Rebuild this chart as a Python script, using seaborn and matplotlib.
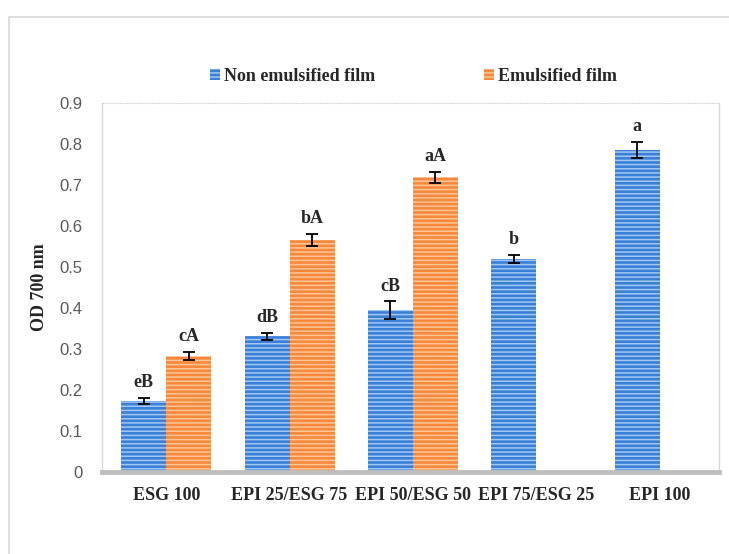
import numpy as np
import pandas as pd
import matplotlib
matplotlib.use("Agg")
import matplotlib.pyplot as plt
from matplotlib.patches import Patch, Rectangle
import seaborn as sns

# ---------------------------
# DATA
# ---------------------------
films = ["ESG 100", "EPI 25/ESG 75", "EPI 50/ESG 50", "EPI 75/ESG 25", "EPI 100"]
non_emul = [0.173, 0.331, 0.395, 0.520, 0.785]
non_emul_err = [0.008, 0.008, 0.021, 0.010, 0.020]
non_emul_lbl = ["eB", "dB", "cB", "b", "a"]
emul = [0.283, 0.566, 0.719, np.nan, np.nan]
emul_err = [0.010, 0.015, 0.014, np.nan, np.nan]
emul_lbl = ["cA", "bA", "aA", "", ""]
series = ["Non emulsified film", "Emulsified film"]

rows = []
for i, f in enumerate(films):
    rows.append((f, series[0], non_emul[i], non_emul_err[i], non_emul_lbl[i]))
    if not np.isnan(emul[i]):
        rows.append((f, series[1], emul[i], emul_err[i], emul_lbl[i]))
df = pd.DataFrame(rows, columns=["Film", "Type", "OD", "Err", "Lbl"])

face = {series[0]: "#3a7fd8", series[1]: "#f8883a"}
stripe = {series[0]: "#a2c8f2", series[1]: "#fdc59a"}
SERIF = "Liberation Serif"
FS = 13

# ---------------------------
# PLOT
# ---------------------------
sns.set_style("white")
plt.rcParams["hatch.linewidth"] = 1.1

fig = plt.figure(figsize=(7.29, 5.54), dpi=100)
ax = fig.add_axes([0.140, 0.148, 0.846, 0.666])

sns.barplot(data=df, x="Film", y="OD", hue="Type", order=films,
            hue_order=series, palette=face, width=0.73, errorbar=None,
            legend=False, saturation=1, ax=ax)

for cont, s in zip(ax.containers, series):
    sub = df[df["Type"] == s].set_index("Film").reindex(films).dropna(subset=["OD"])
    for bar, (_, r) in zip(cont, sub.iterrows()):
        bar.set_hatch("----")
        bar.set_edgecolor(stripe[s])
        bar.set_linewidth(0)
        xc = bar.get_x() + bar.get_width() / 2
        ax.errorbar(xc, r["OD"], yerr=r["Err"], fmt="none", ecolor="black",
                    elinewidth=1.3, capsize=4, capthick=1.3)
        ax.annotate(r["Lbl"], (xc, r["OD"] + r["Err"]), xytext=(0, 5),
                    textcoords="offset points", ha="center", va="bottom",
                    fontsize=FS, fontweight="bold", family=SERIF)

ax.set_ylim(0, 0.9)
ax.set_xlim(-0.52, 4.48)
ax.set_yticks(np.arange(0, 0.91, 0.1))
ax.set_yticklabels(["0"] + [f"{v:.1f}" for v in np.arange(0.1, 0.91, 0.1)],
                   fontsize=12, color="#595959", family="Liberation Sans")
ax.tick_params(axis="y", length=0, pad=14)
ax.tick_params(axis="x", length=0, pad=11)
for lab in ax.get_xticklabels():
    lab.set_fontsize(FS)
    lab.set_fontweight("bold")
    lab.set_family(SERIF)
ax.set_xlabel("")
ax.set_ylabel("OD 700 nm", fontsize=FS, fontweight="bold",
              family=SERIF, labelpad=8)

for side in ["left", "right"]:
    ax.spines[side].set_color("#d9d9d9")
    ax.spines[side].set_linewidth(1)
ax.spines["top"].set_color("#d9d9d9")
ax.spines["top"].set_linestyle(":")
ax.spines["bottom"].set_color("#bfbfbf")
ax.spines["bottom"].set_linewidth(3.5)

handles = [Patch(facecolor=face[s], edgecolor=stripe[s], hatch="----", linewidth=0)
           for s in series]
fig.legend(handles, series, loc="center", bbox_to_anchor=(0.567, 0.862), ncol=2,
           frameon=False, columnspacing=6.0, handlelength=0.55, handleheight=0.55,
           handletextpad=0.25,
           prop={"family": SERIF, "weight": "bold", "size": FS})

# outer chart frame
fig.patches.append(Rectangle((9 / 729, -0.1), 1.2, 1.1 - 17 / 554,
                             transform=fig.transFigure, fill=False,
                             edgecolor="#d9d9d9", linewidth=1.2, zorder=0))

fig.savefig("out.png", dpi=100)
